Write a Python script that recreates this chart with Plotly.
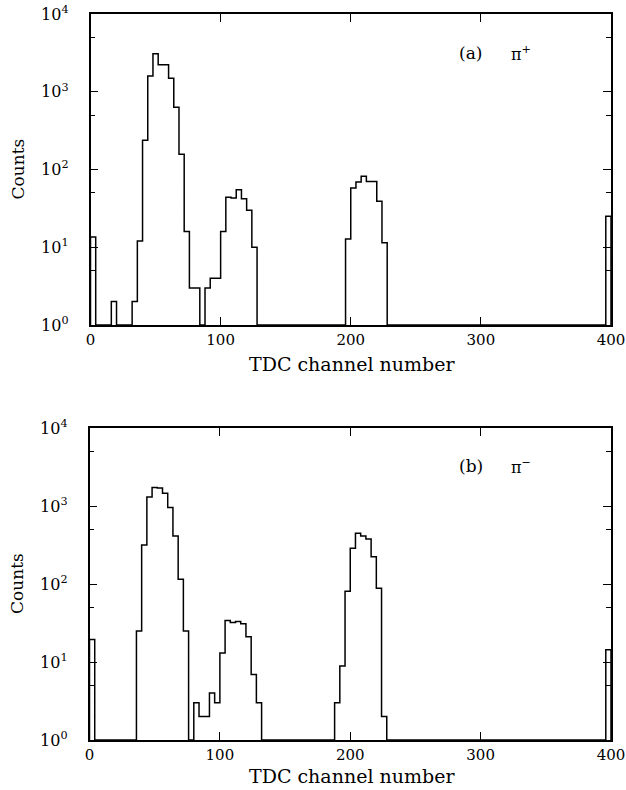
import plotly.graph_objects as go

# ---- data (counts per 4-channel TDC bin, 100 bins from 0 to 400) ----
bin_width = 4
n_bins = 100

# panel (a) pi+ : nonzero bins {bin index: counts}
counts_a = {
    0: 13.5, 4: 2, 8: 2, 9: 12, 10: 238, 11: 1590, 12: 3070, 13: 2220, 14: 2220,
    15: 1490, 16: 630, 17: 157, 18: 16, 19: 3, 20: 3, 22: 3, 23: 4, 24: 4,
    25: 16, 26: 44, 27: 43, 28: 55, 29: 42, 30: 30, 31: 10,
    49: 12.8, 50: 58, 51: 69, 52: 82, 53: 70, 54: 70, 55: 39, 56: 11.4,
    99: 25,
}
# panel (b) pi- : nonzero bins {bin index: counts}
counts_b = {
    0: 19.4, 9: 25, 10: 316, 11: 1300, 12: 1725, 13: 1700, 14: 1460, 15: 955,
    16: 413, 17: 115, 18: 25, 20: 3, 21: 2, 22: 2, 23: 4, 24: 3,
    25: 13, 26: 34, 27: 32, 28: 33, 29: 31, 30: 21, 31: 6.9, 32: 3,
    47: 3, 48: 8.9, 49: 81, 50: 287, 51: 447, 52: 413, 53: 378, 54: 224,
    55: 88, 56: 2,
    99: 14.4,
}

x_ticks = [0, 100, 200, 300, 400]
y_ticks = [1, 10, 100, 1000, 10000]
y_ticktext = ["10<sup>0</sup>", "10<sup>1</sup>", "10<sup>2</sup>", "10<sup>3</sup>", "10<sup>4</sup>"]
y_minor = [5, 50, 500, 5000]
labels = ["(a)", "(b)"]
particles = ["π<sup>+</sup>", "π<sup>−</sup>"]

FLOOR = 1.0  # empty bins drawn on the 10^0 baseline


def step_outline(counts):
    xs, ys = [0], [FLOOR]
    for i in range(n_bins):
        xs.append(i * bin_width)
        v = counts.get(i, 0)
        ys.append(v if v > 0 else FLOOR)
    xs.append(n_bins * bin_width)
    ys.append(FLOOR)
    return xs, ys


# body margin is removed by post_script, so figure pixels == window pixels
W, H = 626, 790
FONT = "DejaVu Serif"


def px(xw):
    return xw / W


def py(yw):
    return 1 - yw / H


fig = go.Figure()
for k, counts in enumerate([counts_a, counts_b]):
    xs, ys = step_outline(counts)
    fig.add_trace(go.Scatter(
        x=xs, y=ys, mode="lines", line=dict(shape="hv", color="black", width=1.5),
        xaxis="x" if k == 0 else "x2", yaxis="y" if k == 0 else "y2",
        showlegend=False, hoverinfo="skip"))

# panel geometry in window pixels
panels = [
    dict(left=90.5, right=611, top=14, bottom=325),
    dict(left=89.5, right=611, top=428, bottom=740),
]


def xdom(p):
    return [px(p["left"]), px(p["right"])]


def ydom(p):
    return [py(p["bottom"]), py(p["top"])]


common_x = dict(range=[0, 400], tickvals=x_ticks, ticks="inside", ticklen=8, tickwidth=1.3,
                tickcolor="black", showline=True, linecolor="black", linewidth=1.5,
                mirror="allticks", showgrid=False, zeroline=False, automargin=False,
                ticklabelstandoff=0, ticklabeloverflow="allow",
                tickfont=dict(family=FONT, size=15, color="black"))
common_y = dict(type="log", range=[0, 4], tickvals=y_ticks, ticktext=y_ticktext,
                ticks="inside", ticklen=8, tickwidth=1.3, tickcolor="black",
                showline=True, linecolor="black", linewidth=1.5, mirror="allticks",
                showgrid=False, zeroline=False, ticklabelstandoff=17, automargin=False,
                ticklabeloverflow="allow",
                minor=dict(tickvals=y_minor, ticks="inside", ticklen=5, tickwidth=1.2,
                           tickcolor="black", showgrid=False),
                tickfont=dict(family=FONT, size=16, color="black"))

fig.update_layout(
    width=W, height=H, margin=dict(l=0, r=0, t=0, b=0, autoexpand=False),
    paper_bgcolor="white", plot_bgcolor="white",
    xaxis=dict(domain=xdom(panels[0]), anchor="y", **common_x),
    yaxis=dict(domain=ydom(panels[0]), anchor="x", **common_y),
    xaxis2=dict(domain=xdom(panels[1]), anchor="y2", **common_x),
    yaxis2=dict(domain=ydom(panels[1]), anchor="x2", **common_y),
)

ann = []
label_y = [53, 466]
title_y = [364, 776]
for k, p in enumerate(panels):
    ann.append(dict(x=px(471), y=py(label_y[k]), xref="paper", yref="paper",
                    text=labels[k], showarrow=False, xanchor="center", yanchor="middle",
                    font=dict(family=FONT, size=17, color="black")))
    ann.append(dict(x=px(521), y=py(label_y[k]), xref="paper", yref="paper",
                    text=particles[k], showarrow=False, xanchor="center", yanchor="middle",
                    font=dict(family=FONT, size=16, color="black")))
    ann.append(dict(x=px(352), y=py(title_y[k]), xref="paper", yref="paper",
                    text="TDC channel number", showarrow=False, xanchor="center",
                    yanchor="middle", font=dict(family=FONT, size=19, color="black")))
    ann.append(dict(x=px(17), y=py((p["top"] + p["bottom"]) / 2), xref="paper",
                    yref="paper", text="Counts", textangle=-90, showarrow=False,
                    xanchor="center", yanchor="middle",
                    font=dict(family=FONT, size=17, color="black")))
fig.update_layout(annotations=ann)

fig.write_html("out.html", config={"displayModeBar": False},
               post_script="document.body.style.margin='0px';")
